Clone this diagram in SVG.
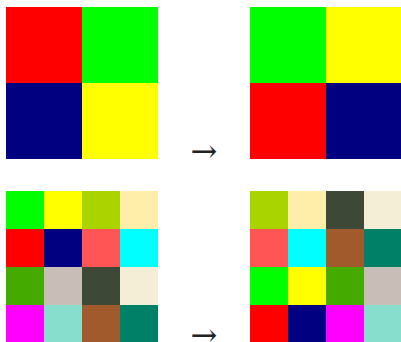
<svg xmlns="http://www.w3.org/2000/svg" width="401" height="342" viewBox="0 0 401 342">
<style>
.arrow{font-family:"DejaVu Serif","Liberation Serif",serif;font-size:32px;fill:#222;}
</style>
<rect width="401" height="342" fill="#fff"/>
<g id="top-left">
<rect x="6" y="7" width="76" height="76" fill="#ff0000"/>
<rect x="82" y="7" width="76" height="76" fill="#00ff00"/>
<rect x="6" y="83" width="76" height="76" fill="#000080"/>
<rect x="82" y="83" width="76" height="76" fill="#ffff00"/>
</g>
<g id="top-right">
<rect x="250" y="7" width="76" height="76" fill="#00ff00"/>
<rect x="326" y="7" width="76" height="76" fill="#ffff00"/>
<rect x="250" y="83" width="76" height="76" fill="#ff0000"/>
<rect x="326" y="83" width="76" height="76" fill="#000080"/>
</g>
<g id="bottom-left">
<rect x="6" y="191" width="38" height="38" fill="#00ff00"/>
<rect x="44" y="191" width="38" height="38" fill="#ffff00"/>
<rect x="82" y="191" width="38" height="38" fill="#aad400"/>
<rect x="120" y="191" width="38" height="38" fill="#ffeeaa"/>
<rect x="6" y="229" width="38" height="38" fill="#ff0000"/>
<rect x="44" y="229" width="38" height="38" fill="#000080"/>
<rect x="82" y="229" width="38" height="38" fill="#ff5555"/>
<rect x="120" y="229" width="38" height="38" fill="#00ffff"/>
<rect x="6" y="267" width="38" height="38" fill="#44aa00"/>
<rect x="44" y="267" width="38" height="38" fill="#c8beb7"/>
<rect x="82" y="267" width="38" height="38" fill="#3d4837"/>
<rect x="120" y="267" width="38" height="38" fill="#f4eed7"/>
<rect x="6" y="305" width="38" height="38" fill="#ff00ff"/>
<rect x="44" y="305" width="38" height="38" fill="#87decd"/>
<rect x="82" y="305" width="38" height="38" fill="#a05a2c"/>
<rect x="120" y="305" width="38" height="38" fill="#008066"/>
</g>
<g id="bottom-right">
<rect x="250" y="191" width="38" height="38" fill="#aad400"/>
<rect x="288" y="191" width="38" height="38" fill="#ffeeaa"/>
<rect x="326" y="191" width="38" height="38" fill="#3d4837"/>
<rect x="364" y="191" width="38" height="38" fill="#f4eed7"/>
<rect x="250" y="229" width="38" height="38" fill="#ff5555"/>
<rect x="288" y="229" width="38" height="38" fill="#00ffff"/>
<rect x="326" y="229" width="38" height="38" fill="#a05a2c"/>
<rect x="364" y="229" width="38" height="38" fill="#008066"/>
<rect x="250" y="267" width="38" height="38" fill="#00ff00"/>
<rect x="288" y="267" width="38" height="38" fill="#ffff00"/>
<rect x="326" y="267" width="38" height="38" fill="#44aa00"/>
<rect x="364" y="267" width="38" height="38" fill="#c8beb7"/>
<rect x="250" y="305" width="38" height="38" fill="#ff0000"/>
<rect x="288" y="305" width="38" height="38" fill="#000080"/>
<rect x="326" y="305" width="38" height="38" fill="#ff00ff"/>
<rect x="364" y="305" width="38" height="38" fill="#87decd"/>
</g>
<g id="connectors">
<text class="arrow" x="204" y="162" text-anchor="middle">→</text>
<text class="arrow" x="204" y="346" text-anchor="middle">→</text>
</g>
</svg>
